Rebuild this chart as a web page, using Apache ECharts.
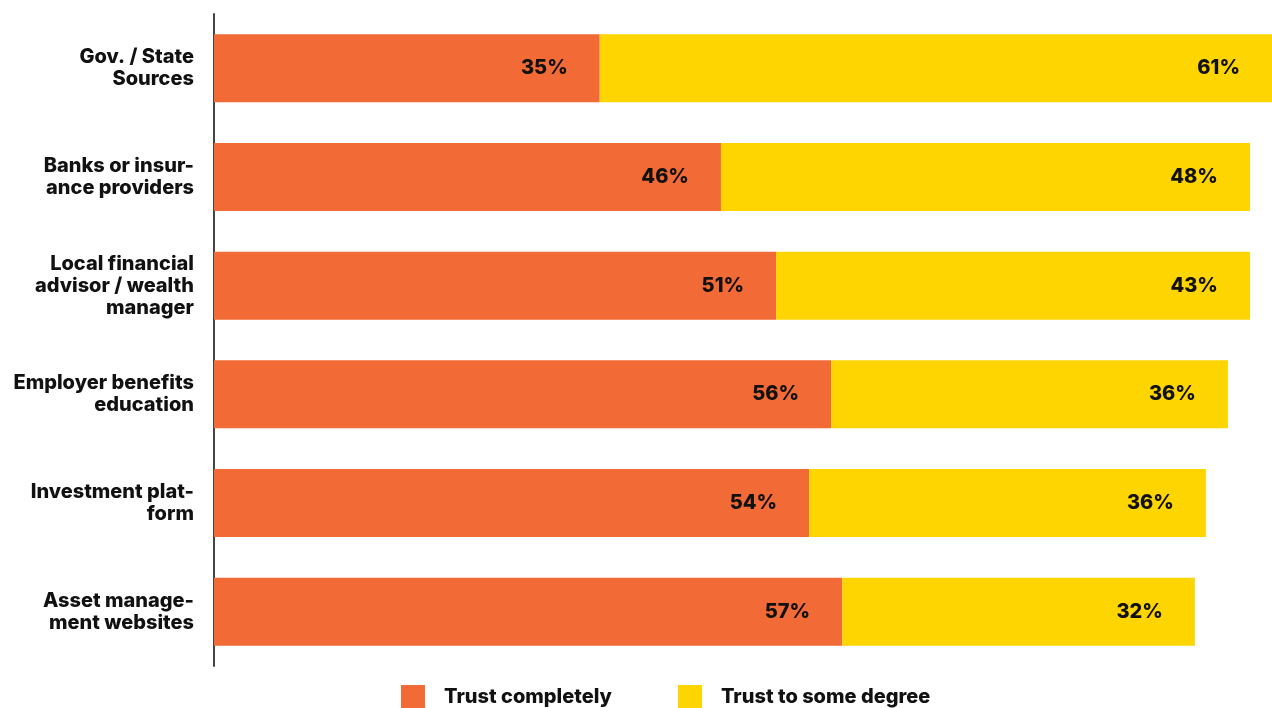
<!DOCTYPE html>
<html>
<head>
<meta charset="utf-8">
<script src="https://cdn.jsdelivr.net/npm/echarts@6/dist/echarts.min.js"></script>
<style>
  html, body { margin: 0; padding: 0; background: #fff; }
  #chart { width: 1272px; height: 708px; }
</style>
</head>
<body>
<div id="chart"></div>
<script>
// Sources of financial information, by level of trust (%)
const categories = [
  "Gov. / State\nSources",
  "Banks or insur-\nance providers",
  "Local financial\nadvisor / wealth\nmanager",
  "Employer benefits\neducation",
  "Investment plat-\nform",
  "Asset manage-\nment websites"
];
const trustCompletely = [35, 46, 51, 56, 54, 57];
const trustSomeDegree = [61, 48, 43, 36, 36, 32];
const seriesNames = ["Trust completely", "Trust to some degree"];

const FONT = "Inter, 'Noto Sans', sans-serif";

const chart = echarts.init(document.getElementById('chart'), null, { renderer: 'canvas' });

const labelStyle = {
  show: true,
  position: 'insideRight',
  distance: 32,
  formatter: p => p.value + '%',
  color: '#111',
  fontFamily: FONT,
  fontWeight: 800,
  fontSize: 20
};

chart.setOption({
  animation: false,
  backgroundColor: '#ffffff',
  grid: { left: 214, right: 0, top: 14, bottom: 42, containLabel: false },
  legend: {
    bottom: -6,
    left: 396,
    itemWidth: 24,
    itemHeight: 24,
    itemGap: 66,
    icon: 'rect',
    textStyle: { fontFamily: FONT, fontWeight: 800, fontSize: 20, color: '#111', padding: [4, 0, 0, 14] },
    data: seriesNames
  },
  xAxis: {
    type: 'value',
    min: 0,
    max: 96,
    show: false
  },
  yAxis: {
    type: 'category',
    inverse: true,
    data: categories,
    axisLine: { show: true, lineStyle: { color: '#444', width: 2 } },
    axisTick: { show: false },
    axisLabel: {
      margin: 20,
      fontFamily: FONT,
      fontWeight: 800,
      fontSize: 20,
      lineHeight: 22,
      color: '#111',
      align: 'right'
    }
  },
  series: [
    {
      name: seriesNames[0],
      type: 'bar',
      stack: 'trust',
      data: trustCompletely,
      barCategoryGap: '37.4%',
      itemStyle: { color: '#F26A35' },
      label: labelStyle
    },
    {
      name: seriesNames[1],
      type: 'bar',
      stack: 'trust',
      data: trustSomeDegree,
      barCategoryGap: '37.4%',
      itemStyle: { color: '#FFD500' },
      label: labelStyle
    }
  ]
});
</script>
</body>
</html>
